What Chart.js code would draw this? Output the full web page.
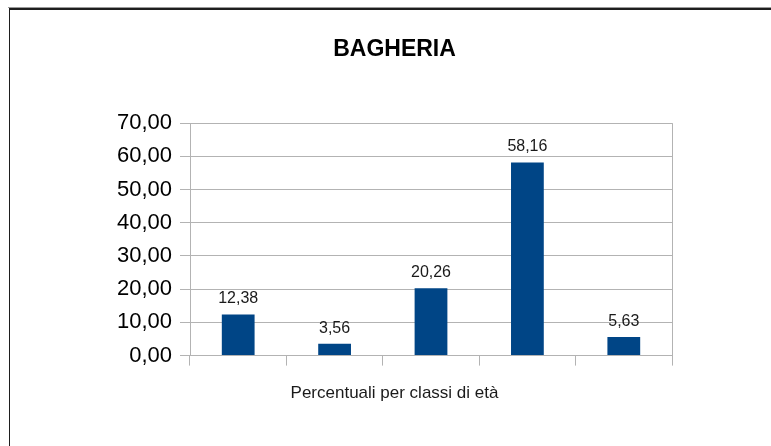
<!DOCTYPE html>
<html><head><meta charset="utf-8">
<script src="https://cdn.jsdelivr.net/npm/chart.js@4/dist/chart.umd.min.js"></script>
<style>
html,body{margin:0;padding:0;background:#fff;overflow:hidden;width:771px;height:446px;}
#f1{position:absolute;left:8px;top:7px;width:800px;height:1px;background:#9a9a9a;}
#f2{position:absolute;left:9px;top:8px;width:800px;height:500px;border-top:2px solid #1e1e1e;border-left:1px solid #1e1e1e;}
canvas{position:absolute;left:0;top:0;}
</style></head><body>
<div id="f1"></div><div id="f2"></div>
<canvas id="c" width="771" height="446"></canvas>
<script>
const chartTitle = 'BAGHERIA';
const axisTitle = 'Percentuali per classi di età';
const categories = ['Classe 1', 'Classe 2', 'Classe 3', 'Classe 4', 'Classe 5'];
const values = [12.38, 3.56, 20.26, 58.16, 5.63];
const yTicks = [0, 10, 20, 30, 40, 50, 60, 70];

const fmt = v => v.toFixed(2).replace('.', ',');
Chart.defaults.font.family = '"Liberation Sans", Arial, sans-serif';

const valueLabels = {
  id: 'valueLabels',
  afterDatasetsDraw(chart) {
    const ctx = chart.ctx;
    const meta = chart.getDatasetMeta(0);
    ctx.save();
    ctx.font = '16px "Liberation Sans", Arial, sans-serif';
    ctx.fillStyle = '#1a1a1a';
    ctx.textAlign = 'center';
    ctx.textBaseline = 'alphabetic';
    meta.data.forEach((bar, i) => {
      ctx.fillText(fmt(values[i]), bar.x, bar.y - 11);
    });
    ctx.restore();
  }
};

new Chart(document.getElementById('c'), {
  type: 'bar',
  data: {
    labels: categories,
    datasets: [{
      data: values,
      backgroundColor: '#004586',
      borderWidth: 0,
      categoryPercentage: 1,
      barPercentage: 0.34
    }]
  },
  options: {
    responsive: false,
    animation: false,
    events: [],
    layout: { padding: { left: 117, right: 99, top: 0, bottom: 42 } },
    plugins: {
      legend: { display: false },
      tooltip: { enabled: false },
      title: {
        display: true,
        text: chartTitle,
        color: '#000',
        font: { size: 23, weight: 'bold', lineHeight: 1.2 },
        padding: { top: 36, bottom: 59.5 }
      },
      subtitle: {
        display: true,
        position: 'bottom',
        text: axisTitle,
        color: '#1a1a1a',
        font: { size: 17, lineHeight: 1.2 },
        padding: { top: 18, bottom: 0 }
      }
    },
    scales: {
      x: {
        offset: true,
        grid: {
          offset: true,
          drawOnChartArea: true,
          color: ctx => ctx.type === 'scale' ? '#b3b3b3' : 'rgba(0,0,0,0)',
          tickColor: '#b3b3b3',
          tickLength: 10
        },
        border: { color: '#b3b3b3' },
        ticks: { display: false }
      },
      y: {
        min: 0,
        max: 70,
        afterBuildTicks: s => { s.ticks = yTicks.map(v => ({ value: v })); },
        afterFit: s => { s.width = 73; },
        grid: { color: '#b3b3b3', tickColor: '#b3b3b3', tickLength: 10 },
        border: { color: '#b3b3b3' },
        ticks: {
          color: '#000',
          padding: 8,
          font: { size: 22 },
          callback: v => fmt(v)
        }
      }
    }
  },
  plugins: [valueLabels]
});
</script>
</body></html>
